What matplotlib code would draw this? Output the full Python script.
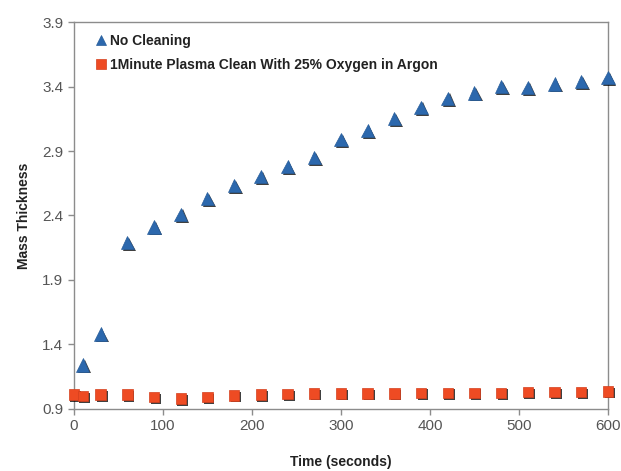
import matplotlib
matplotlib.use("Agg")
import matplotlib.pyplot as plt
import matplotlib.patheffects as pe

time_blue = [10, 30, 60, 90, 120, 150, 180, 210, 240, 270, 300, 330, 360,
             390, 420, 450, 480, 510, 540, 570, 600]
no_cleaning = [1.24, 1.48, 2.19, 2.31, 2.41, 2.53, 2.63, 2.70, 2.78, 2.85,
               2.99, 3.06, 3.15, 3.24, 3.31, 3.35, 3.40, 3.39, 3.42, 3.44, 3.47]

time_red = [0, 10, 30, 60, 90, 120, 150, 180, 210, 240, 270, 300, 330, 360,
            390, 420, 450, 480, 510, 540, 570, 600]
plasma_clean = [1.01, 1.00, 1.01, 1.01, 0.99, 0.98, 0.99, 1.005, 1.01, 1.015,
                1.02, 1.02, 1.02, 1.02, 1.025, 1.025, 1.025, 1.025, 1.03, 1.03,
                1.03, 1.035]

x_ticks = [0, 100, 200, 300, 400, 500, 600]
y_ticks = [0.9, 1.4, 1.9, 2.4, 2.9, 3.4, 3.9]

plt.rcParams['font.family'] = ['Liberation Sans', 'DejaVu Sans']

fig = plt.figure(figsize=(6.21, 4.71), dpi=100)
ax = fig.add_axes([0.119, 0.132, 0.860, 0.821])

shadow = [pe.SimplePatchShadow(offset=(1.3, -1.3), shadow_rgbFace='black', alpha=0.75), pe.Normal()]

l1, = ax.plot(time_blue, no_cleaning, linestyle='none', marker='^', markersize=9.5,
              color='#2c68ad', markeredgecolor='#285d9a', markeredgewidth=0.5,
              label='No Cleaning', zorder=3, clip_on=False)
l1.set_path_effects(shadow)
l2, = ax.plot(time_red, plasma_clean, linestyle='none', marker='s', markersize=7.5,
              color='#ee4b23', markeredgecolor='#d43f1c', markeredgewidth=0.5,
              label='1Minute Plasma Clean With 25% Oxygen in Argon', zorder=4, clip_on=False)
l2.set_path_effects(shadow)

ax.set_xlim(0, 600)
ax.set_ylim(0.9, 3.9)
ax.set_xticks(x_ticks)
ax.set_yticks(y_ticks)
ax.set_yticklabels([f"{v:.1f}" for v in y_ticks])

for s in ax.spines.values():
    s.set_color('#8c8c8c')
    s.set_linewidth(1.0)
ax.tick_params(axis='both', colors='#8c8c8c', labelcolor='#555555', labelsize=11,
               length=4, width=1.0, direction='out')

ax.set_xlabel('Time (seconds)', fontsize=10, fontweight='bold', color='#222222', labelpad=16)
ax.set_ylabel('Mass Thickness', fontsize=10, fontweight='bold', color='#222222', labelpad=8)

leg = ax.legend(loc='upper left', frameon=False, prop={'weight': 'bold', 'size': 10},
                handletextpad=0.1, handlelength=1.0, borderaxespad=0.3, labelspacing=0.75,
                bbox_to_anchor=(0.02, 0.995))
for h in leg.legend_handles:
    h.set_path_effects([])
    h.set_markersize(7)
for t in leg.get_texts():
    t.set_color('#222222')

fig.savefig('out.png', dpi=100)
